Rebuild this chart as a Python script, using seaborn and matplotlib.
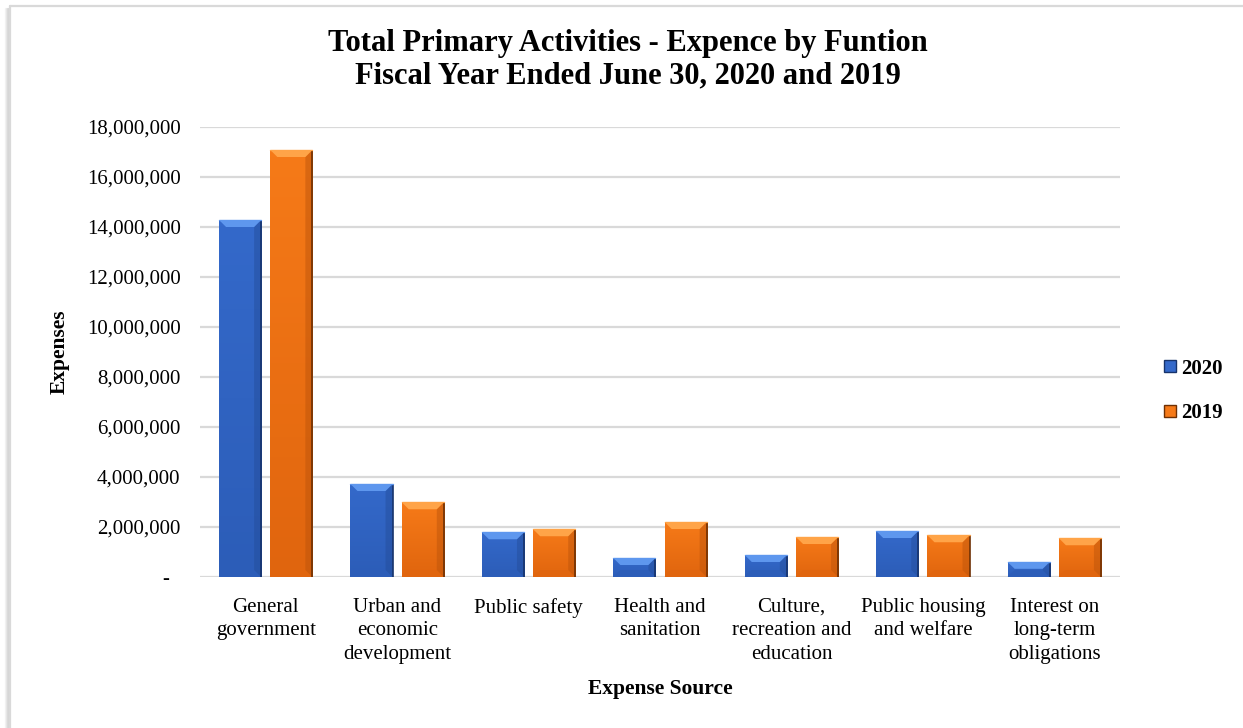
import numpy as np
import pandas as pd
import matplotlib
matplotlib.use("Agg")
import matplotlib.pyplot as plt
from matplotlib.patches import Polygon
from matplotlib.lines import Line2D
from matplotlib.ticker import FuncFormatter
import seaborn as sns

# Expenses by function, in dollars
categories = [
    "General\ngovernment",
    "Urban and\neconomic\ndevelopment",
    "Public safety",
    "Health and\nsanitation",
    "Culture,\nrecreation and\neducation",
    "Public housing\nand welfare",
    "Interest on\nlong-term\nobligations",
]
expenses_2020 = [14_280_000, 3_720_000, 1_790_000, 760_000, 880_000, 1_840_000, 600_000]
expenses_2019 = [17_080_000, 2_990_000, 1_910_000, 2_200_000, 1_600_000, 1_670_000, 1_550_000]
years = ["2020", "2019"]

df = pd.DataFrame({
    "Expense Source": categories * 2,
    "Year": [years[0]] * len(categories) + [years[1]] * len(categories),
    "Expenses": expenses_2020 + expenses_2019,
})

sns.set_theme(style="white")
plt.rcParams["font.family"] = ["Liberation Serif", "DejaVu Serif"]
plt.rcParams["text.color"] = "black"
plt.rcParams["axes.labelcolor"] = "black"

W, H = 1243, 728
fig = plt.figure(figsize=(W / 100, H / 100), dpi=100)
ax = fig.add_axes([200 / W, 1 - 577 / H, 920 / W, 450 / H])

palette = {"2020": "#3469CA", "2019": "#F67A18"}
sns.barplot(data=df, x="Expense Source", y="Expenses", hue="Year",
            hue_order=years, palette=palette, width=0.78, gap=0.18,
            errorbar=None, legend=False, ax=ax, zorder=3,
            edgecolor="none", linewidth=0)

ax.set_xlim(-0.5, len(categories) - 0.5)
ax.set_ylim(0, 18_000_000)
ax.set_yticks(np.arange(0, 18_000_001, 2_000_000))
ax.yaxis.set_major_formatter(FuncFormatter(lambda v, p: "-  " if v == 0 else f"{v:,.0f}"))
ax.grid(axis="y", color="#D9D9D9", linewidth=1.6, zorder=0)
ax.set_axisbelow(True)
for s in ax.spines.values():
    s.set_visible(False)
ax.tick_params(axis="y", length=0, pad=14, labelsize=15, colors="black")
ax.tick_params(axis="x", length=0, pad=15, labelsize=15, colors="black")
for t in ax.get_xticklabels():
    t.set_linespacing(1.32)

ax.set_ylabel("Expenses", fontsize=15.5, fontweight="bold", labelpad=12)
ax.set_xlabel("Expense Source", fontsize=15.5, fontweight="bold", labelpad=11)

# bevelled look on each bar
light = {"2020": "#5E97EE", "2019": "#FFA448"}
dark = {"2020": "#234C98", "2019": "#B9520A"}
mid = {"2020": "#2C5DB8", "2019": "#E0650E"}
edge = {"2020": "#17336B", "2019": "#6E3004"}
inv = ax.transData.inverted()
p0 = inv.transform((0, 0))
p1 = inv.transform((7, 7))
dx0, dy0 = p1[0] - p0[0], p1[1] - p0[1]
bars = [p for p in ax.patches if p.get_height() > 0]
n = len(categories)
for i, bar in enumerate(bars):
    yr = years[0] if i < n else years[1]
    x0, w, h = bar.get_x(), bar.get_width(), bar.get_height()
    dy = min(dy0, h / 2.2)
    dx = dx0
    # body gradient, slightly darker towards the bottom
    grad = np.linspace(1.0, 0.0, 64).reshape(-1, 1)
    cmap = matplotlib.colors.LinearSegmentedColormap.from_list(
        "b", [mid[yr], palette[yr]])
    ax.imshow(grad, extent=[x0, x0 + w, 0, h], aspect="auto", cmap=cmap,
              zorder=3.1, clip_path=bar, origin="upper")
    top = Polygon([(x0, h), (x0 + w, h), (x0 + w - dx, h - dy), (x0 + dx, h - dy)],
                  closed=True, facecolor=light[yr], edgecolor="none", zorder=3.3)
    bot = Polygon([(x0, 0), (x0 + w, 0), (x0 + w - dx, dy), (x0 + dx, dy)],
                  closed=True, facecolor=mid[yr], edgecolor="none", zorder=3.2)
    right = Polygon([(x0 + w, 0), (x0 + w, h), (x0 + w - dx, h - dy), (x0 + w - dx, dy)],
                    closed=True, facecolor=dark[yr], edgecolor="none", zorder=3.2, alpha=0.45)
    for poly in (top, bot, right):
        ax.add_patch(poly)
    ax.plot([x0 + w, x0 + w], [0, h], color=edge[yr], lw=1.2, zorder=3.4,
            solid_capstyle="butt")
    ax.plot([x0, x0 + w], [h, h], color=light[yr], lw=1.0, zorder=3.4)

ax.set_xlim(-0.5, len(categories) - 0.5)
ax.set_ylim(0, 18_000_000)

# legend
handles = [Line2D([], [], marker="s", linestyle="none", markersize=8,
                  markerfacecolor=palette[y], markeredgecolor=edge[y]) for y in years]
fig.legend(handles, years, loc="center left", bbox_to_anchor=(1164 / W, 1 - 391 / H),
           frameon=False, handletextpad=0.2, handlelength=0.6, borderpad=0,
           borderaxespad=0, labelspacing=1.2,
           prop={"weight": "bold", "size": 15, "family": "Liberation Serif"})

# title
fig.text(628 / W, 1 - 43 / H, "Total Primary Activities - Expence by Funtion",
         ha="center", va="center", fontsize=22, fontweight="bold")
fig.text(628 / W, 1 - 76 / H, "Fiscal Year Ended June 30, 2020 and 2019",
         ha="center", va="center", fontsize=22, fontweight="bold")

# chart frame with soft shadow on the left
for k, a in enumerate([0.04, 0.07, 0.1, 0.14]):
    fig.add_artist(Line2D([(5 + k) / W] * 2, [0, 1 - 8 / H], transform=fig.transFigure,
                          color="black", alpha=a, lw=1))
fig.add_artist(Line2D([10 / W, 1], [1 - 6 / H] * 2, transform=fig.transFigure,
                      color="#D9D9D9", lw=1.6))
fig.add_artist(Line2D([10 / W] * 2, [0, 1 - 6 / H], transform=fig.transFigure,
                      color="#D9D9D9", lw=1.6))

fig.savefig("out.png", dpi=100, facecolor="white")
